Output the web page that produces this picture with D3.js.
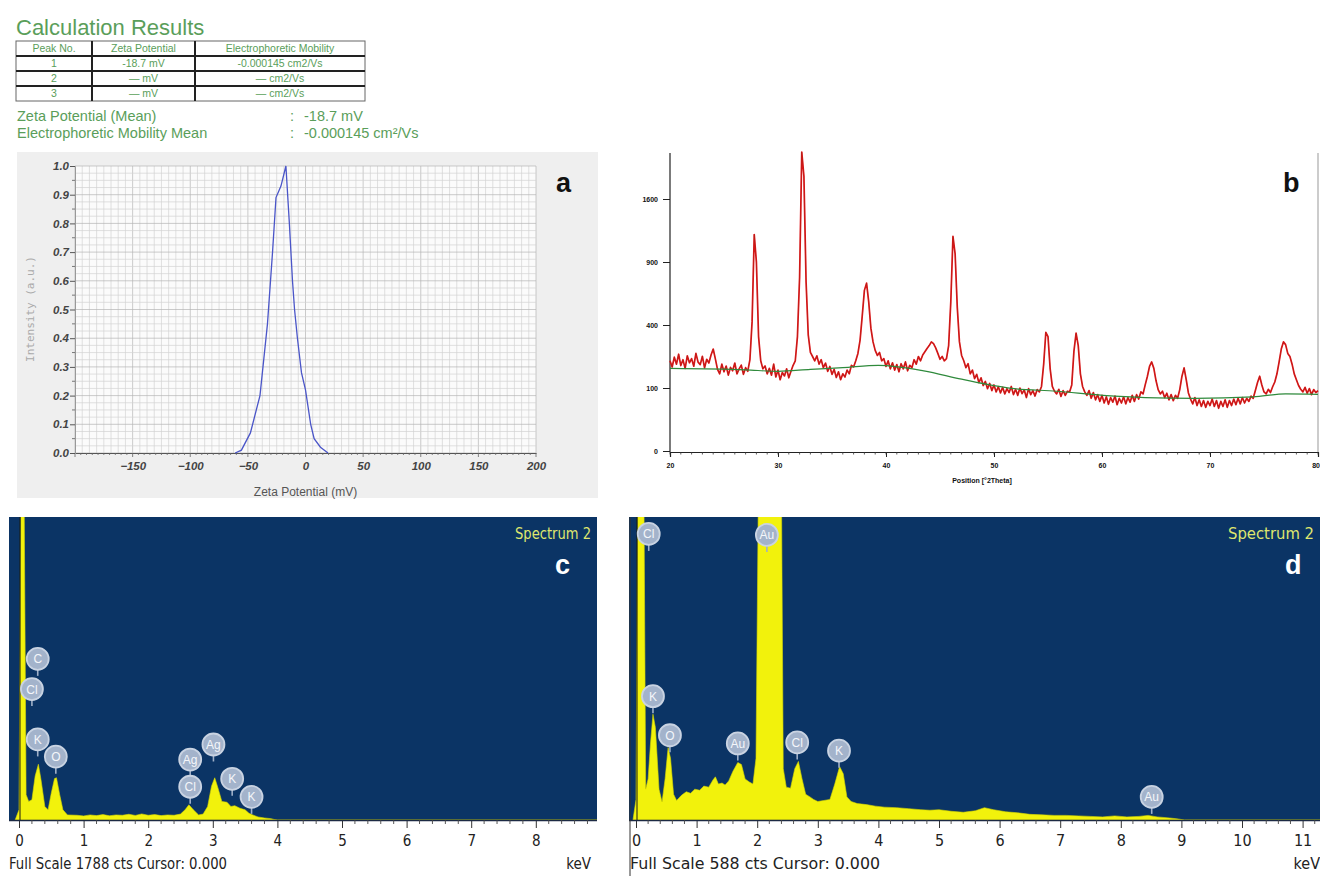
<!DOCTYPE html>
<html>
<head>
<meta charset="utf-8">
<script src="https://cdn.jsdelivr.net/npm/d3@7"></script>
<style>
  body { margin: 0; background: #fff; }
  svg { display: block; }
</style>
</head>
<body>
<svg id="fig" width="1320" height="876"></svg>
<script>
// ---- calculation results table ----
const peakNo = ['1', '2', '3']
const zetaCol = ['-18.7 mV', '— mV', '— mV']
const mobilityCol = ['-0.000145 cm2/Vs', '— cm2/Vs', '— cm2/Vs']
const tableHeader = ['Peak No.', 'Zeta Potential', 'Electrophoretic Mobility']

// ---- (a) zeta potential distribution ----
const zetaMv = [-61, -55.6, -47.8, -39.5, -33, -28.6, -25.6, -21.3, -17, -14, -11.3, -9.5, -7, -3.5, 0, 4.5, 7.5, 13, 19.5]
const zetaInt = [0, 0.01, 0.07, 0.2, 0.45, 0.7, 0.89, 0.93, 1.0, 0.8, 0.6, 0.5, 0.4, 0.28, 0.22, 0.1, 0.05, 0.02, 0]
const zetaXTicks = [-150, -100, -50, 0, 50, 100, 150, 200]
const zetaYTicks = [0, 0.1, 0.2, 0.3, 0.4, 0.5, 0.6, 0.7, 0.8, 0.9, 1.0]

// ---- (b) XRD pattern, 2theta from 20 to 80 in 0.2 steps ----
const xrdStart = 20, xrdStep = 0.2
const xrdCounts = [
  205,178,222,190,236,184,210,172,228,196,215,181,240,199,188,226,174,212,195,
  232,262,214,
  168,150,190,158,182,145,176,162,195,150,170,186,148,175,160,
  210,420,1180,900,330,205,170,
  182,150,172,145,190,138,165,128,155,142,170,135,160,185,
  205,330,760,2250,1900,720,340,245,225,
  205,228,190,210,175,195,160,180,148,168,136,158,128,150,138,165,150,185,
  178,205,240,310,460,650,710,560,380,300,255,230,245,205,
  215,180,205,170,196,165,188,158,192,170,200,162,185,175,210,190,225,205,
  232,248,265,280,300,290,268,240,212,225,205,
  215,280,560,1160,980,520,300,230,
  205,175,192,150,165,132,148,118,135,108,122,98,115,92,110,88,104,85,102,82,98,86,105,80,96,78,100,83,94,72,98,80,92,76,95,88,
  105,190,355,330,170,105,90,
  82,96,75,92,78,90,88,
  110,250,350,280,150,105,88,
  78,92,70,86,66,80,62,78,58,74,55,72,60,76,54,70,58,74,56,72,60,78,62,80,68,88,82,110,
  140,180,200,172,125,95,82,90,
  72,84,66,80,64,78,70,95,
  140,174,128,85,
  68,56,72,52,66,50,64,48,62,52,68,50,64,46,62,50,66,48,64,52,68,54,70,56,72,58,70,62,76,70,92,
  118,141,110,88,
  82,96,86,104,120,150,
  200,262,300,285,240,225,190,150,
  128,108,96,88,102,84,98,80,95,86,92
]
const bgTheta = [20, 27, 30, 33, 36, 39.3, 43.5, 47, 51.6, 55.8, 60.1, 64, 68.6, 74, 77, 80]
const bgCounts = [172, 166, 160, 168, 175, 185, 162, 130, 99, 90, 78, 72, 70, 74, 82, 81]
const xrdXTicks = [20, 30, 40, 50, 60, 70, 80]
const xrdYTicks = [0, 100, 400, 900, 1600]

// ---- (c) EDS spectrum, full scale 1788 cts ----
const cKeV = [-0.06, 0.0, 0.03, 0.08, 0.11, 0.15, 0.2, 0.25, 0.30, 0.34, 0.40, 0.45, 0.50, 0.55, 0.58, 0.63, 0.68, 0.75, 0.9,
  1.0, 1.1, 1.2, 1.3, 1.4, 1.5, 1.6, 1.7, 1.8, 1.9, 2.0, 2.1, 2.2, 2.3, 2.4, 2.5, 2.57, 2.63, 2.7, 2.78, 2.85, 2.92, 2.98,
  3.03, 3.08, 3.14, 3.22, 3.28, 3.34, 3.42, 3.5, 3.56, 3.62, 3.7, 3.8, 3.9, 3.95, 4.0, 8.95]
const cCounts = [0, 60, 1900, 1900, 150, 110, 120, 260, 330, 240, 80, 60, 160, 245, 250, 150, 60, 30, 28,
  24, 30, 26, 32, 25, 30, 28, 34, 27, 36, 28, 32, 26, 30, 28, 35, 60, 90, 60, 30, 35, 80, 200,
  250, 190, 110, 105, 80, 85, 70, 60, 40, 30, 18, 12, 8, 3, 0, 0]
const cLabelEl = ['C', 'Cl', 'K', 'O', 'Ag', 'Ag', 'Cl', 'K', 'K']
const cLabelKeV = [0.29, 0.20, 0.29, 0.57, 2.65, 3.01, 2.65, 3.30, 3.60]
const cLabelCts = [954, 775, 477, 375, 358, 447, 197, 244, 137]
const cXTicks = [0, 1, 2, 3, 4, 5, 6, 7, 8]

// ---- (d) EDS spectrum, full scale 588 cts ----
const dKeV = [-0.05, 0.0, 0.03, 0.13, 0.16, 0.2, 0.24, 0.28, 0.32, 0.38, 0.43, 0.48, 0.53, 0.57, 0.62, 0.67, 0.75, 0.83,
  0.9, 0.97, 1.05, 1.12, 1.2, 1.27, 1.31, 1.36, 1.42, 1.47, 1.53, 1.6, 1.68, 1.74, 1.8, 1.87, 1.93, 1.98, 2.02, 2.4,
  2.43, 2.48, 2.55, 2.62, 2.68, 2.74, 2.8, 2.87, 2.93, 3.0, 3.1, 3.2, 3.28, 3.36, 3.42, 3.48, 3.55, 3.65, 3.8, 3.95,
  4.1, 4.3, 4.5, 4.7, 4.85, 5.0, 5.2, 5.4, 5.6, 5.75, 5.9, 6.1, 6.3, 6.5, 6.7, 6.9, 7.1, 7.3, 7.5, 7.7, 7.9, 8.1,
  8.3, 8.45, 8.6, 8.8, 8.95, 9.05, 11.3]
const dCounts = [0, 40, 650, 650, 60, 80, 150, 206, 180, 60, 35, 80, 141, 120, 50, 38, 48, 55,
  52, 60, 58, 66, 64, 78, 84, 70, 72, 68, 76, 95, 112, 108, 80, 74, 70, 120, 650, 650,
  100, 64, 62, 100, 114, 80, 50, 45, 40, 36, 38, 40, 70, 104, 90, 45, 36, 32, 30, 27,
  25, 24, 22, 20, 19, 20, 17, 15, 18, 24, 20, 16, 14, 11, 10, 9, 9, 8, 7, 6, 8, 6,
  7, 9, 6, 4, 2, 0, 0]
const dLabelEl = ['Cl', 'Au', 'K', 'O', 'Au', 'Cl', 'K', 'Au']
const dLabelKeV = [0.21, 2.16, 0.28, 0.56, 1.68, 2.66, 3.35, 8.51]
const dLabelCts = [557, 555, 241, 165, 149, 151, 135, 45]
const dXTicks = [0, 1, 2, 3, 4, 5, 6, 7, 8, 9, 10, 11]

const svg = d3.select('#fig')
const GREEN = '#5a9e5a'

function drawTable() {
  const g = svg.append('g')
  g.append('text')
    .attr('x', 16).attr('y', 35)
    .attr('font-family', 'Liberation Sans, Arial, sans-serif')
    .attr('font-size', 22).attr('fill', GREEN)
    .text('Calculation Results')

  const colX = [16, 92, 195, 365]
  const rowY = d3.range(5).map(i => 41 + i * 15)
  const rows = [tableHeader].concat(peakNo.map((p, i) => [p, zetaCol[i], mobilityCol[i]]))

  g.append('rect')
    .attr('x', colX[0]).attr('y', rowY[0])
    .attr('width', colX[3] - colX[0]).attr('height', rowY[4] - rowY[0])
    .attr('fill', 'none').attr('stroke', '#666').attr('stroke-width', 1)

  // row rules are heavy in the original
  rowY.slice(1, 4).forEach(y => {
    g.append('line')
      .attr('x1', colX[0]).attr('x2', colX[3]).attr('y1', y).attr('y2', y)
      .attr('stroke', '#222').attr('stroke-width', 2)
  })
  colX.slice(1, 3).forEach(x => {
    g.append('line')
      .attr('x1', x).attr('x2', x).attr('y1', rowY[0]).attr('y2', rowY[4])
      .attr('stroke', '#222').attr('stroke-width', 2)
  })

  rows.forEach((r, ri) => {
    r.forEach((txt, ci) => {
      g.append('text')
        .attr('x', (colX[ci] + colX[ci + 1]) / 2)
        .attr('y', rowY[ri] + 11)
        .attr('text-anchor', 'middle')
        .attr('font-family', 'Liberation Sans, Arial, sans-serif')
        .attr('font-size', 10.5).attr('fill', GREEN)
        .text(txt)
    })
  })

  const lines = [
    ['Zeta Potential (Mean)', '-18.7 mV', 121],
    ['Electrophoretic Mobility Mean', '-0.000145 cm\u00B2/Vs', 138]
  ]
  lines.forEach(([name, val, y]) => {
    const t = g.append('g')
      .attr('font-family', 'Liberation Sans, Arial, sans-serif')
      .attr('font-size', 14.5).attr('fill', GREEN)
    t.append('text').attr('x', 17).attr('y', y).text(name)
    t.append('text').attr('x', 290).attr('y', y).text(':')
    t.append('text').attr('x', 304).attr('y', y).text(val)
  })
}

function drawZeta() {
  const g = svg.append('g')
  g.append('rect')
    .attr('x', 17).attr('y', 152).attr('width', 581).attr('height', 346)
    .attr('fill', '#efefef')

  const x = d3.scaleLinear().domain([-200, 200]).range([75, 536])
  const y = d3.scaleLinear().domain([0, 1]).range([453, 166])

  g.append('rect')
    .attr('x', x(-200)).attr('y', y(1))
    .attr('width', x(200) - x(-200)).attr('height', y(0) - y(1))
    .attr('fill', '#fbfbfb')

  // fine grid
  const gridX = d3.range(-200, 200.01, 6.25)
  const gridY = d3.range(0, 1.0001, 0.025)
  g.append('g').selectAll('line').data(gridX).join('line')
    .attr('x1', d => x(d)).attr('x2', d => x(d))
    .attr('y1', y(1)).attr('y2', y(0))
    .attr('stroke', d => d % 50 === 0 ? '#b4b4b4' : '#d2d2d2')
    .attr('stroke-width', 0.7)
  g.append('g').selectAll('line').data(gridY).join('line')
    .attr('x1', x(-200)).attr('x2', x(200))
    .attr('y1', d => y(d)).attr('y2', d => y(d))
    .attr('stroke', (d, i) => i % 4 === 0 ? '#b4b4b4' : '#d2d2d2')
    .attr('stroke-width', 0.7)

  const xAxis = d3.axisBottom(x).tickValues(zetaXTicks).tickSize(0).tickPadding(9)
  const gx = g.append('g').attr('transform', `translate(0,${y(0)})`).call(xAxis)
  gx.select('.domain').attr('stroke', '#555')
  gx.selectAll('text')
    .attr('font-family', 'Liberation Sans, Arial, sans-serif')
    .attr('font-size', 11.5).attr('font-weight', 'bold').attr('font-style', 'italic')
    .attr('fill', '#444')
  // minor ticks along the bottom
  g.append('g').selectAll('line').data(d3.range(-200, 200.01, 5)).join('line')
    .attr('x1', d => x(d)).attr('x2', d => x(d))
    .attr('y1', y(0)).attr('y2', d => y(0) + (d % 50 === 0 ? 4 : 2))
    .attr('stroke', '#666').attr('stroke-width', 0.8)

  const yAxis = d3.axisLeft(y).tickValues(zetaYTicks).tickFormat(d3.format('.1f')).tickSize(5).tickPadding(1)
  const gy = g.append('g').attr('transform', `translate(${x(-200)},0)`).call(yAxis)
  gy.select('.domain').attr('stroke', '#999')
  gy.selectAll('.tick line').attr('stroke', '#555')
  gy.selectAll('text')
    .attr('font-family', 'Liberation Sans, Arial, sans-serif')
    .attr('font-size', 11.5).attr('font-weight', 'bold').attr('font-style', 'italic')
    .attr('fill', '#444')
  g.append('g').selectAll('line').data(d3.range(0.05, 1, 0.1)).join('line')
    .attr('x1', x(-200) - 3).attr('x2', x(-200))
    .attr('y1', d => y(d)).attr('y2', d => y(d))
    .attr('stroke', '#777')

  const line = d3.line().x((d, i) => x(zetaMv[i])).y(d => y(d))
  g.append('path')
    .attr('d', line(zetaInt))
    .attr('fill', 'none').attr('stroke', '#4a55c8').attr('stroke-width', 1.3)

  g.append('text')
    .attr('x', x(0)).attr('y', 496)
    .attr('text-anchor', 'middle')
    .attr('font-family', 'Liberation Sans, Arial, sans-serif')
    .attr('font-size', 12).attr('fill', '#555')
    .text('Zeta Potential (mV)')
  g.append('text')
    .attr('transform', 'translate(34,309) rotate(-90)')
    .attr('text-anchor', 'middle')
    .attr('font-family', 'DejaVu Sans Mono, monospace')
    .attr('font-size', 11).attr('fill', '#aaa')
    .text('Intensity (a.u.)')

  g.append('text')
    .attr('x', 556).attr('y', 192)
    .attr('font-family', 'Liberation Sans, Arial, sans-serif')
    .attr('font-size', 27).attr('font-weight', 'bold').attr('fill', '#111')
    .text('a')
}

function drawXrd() {
  const g = svg.append('g')
  const x = d3.scaleLinear().domain([20, 80]).range([670, 1318])
  const y = d3.scaleSqrt().domain([0, 1600]).range([451, 199])
  const theta = xrdCounts.map((c, i) => xrdStart + i * xrdStep)

  const gx = g.append('g').attr('transform', 'translate(0,452)')
    .call(d3.axisBottom(x).tickValues(xrdXTicks).tickSize(5).tickPadding(6).tickFormat(d3.format('d')))
  gx.select('.domain').attr('stroke', '#222').attr('stroke-width', 1.2)
  gx.selectAll('.tick line').attr('stroke', '#222')
  gx.selectAll('text')
    .attr('font-family', 'Liberation Sans, Arial, sans-serif')
    .attr('font-size', 7).attr('font-weight', 'bold').attr('fill', '#111')
    .attr('text-anchor', d => d === 80 ? 'end' : 'middle')
    .attr('dx', d => d === 80 ? 1.5 : 0)
  g.append('g').selectAll('line').data(d3.range(20, 80.01, 1)).join('line')
    .attr('x1', d => x(d)).attr('x2', d => x(d))
    .attr('y1', 452).attr('y2', 454.5)
    .attr('stroke', '#333').attr('stroke-width', 0.8)

  const gy = g.append('g').attr('transform', 'translate(670,0)')
    .call(d3.axisLeft(y).tickValues(xrdYTicks).tickSize(7).tickPadding(5).tickFormat(d3.format('d')))
  gy.select('.domain').remove()
  g.append('line')
    .attr('x1', 670).attr('x2', 670).attr('y1', 153).attr('y2', 452)
    .attr('stroke', '#222').attr('stroke-width', 1.2)
  gy.selectAll('.tick line').attr('stroke', '#222')
  gy.selectAll('text')
    .attr('font-family', 'Liberation Sans, Arial, sans-serif')
    .attr('font-size', 7).attr('font-weight', 'bold').attr('fill', '#111')

  g.append('line')
    .attr('x1', 1318).attr('x2', 1318).attr('y1', 153).attr('y2', 452)
    .attr('stroke', '#999').attr('stroke-width', 1)

  const xrdLine = d3.line().x((d, i) => x(theta[i])).y(d => y(d))
  g.append('path')
    .attr('d', xrdLine(xrdCounts))
    .attr('fill', 'none').attr('stroke', '#e3151b').attr('stroke-width', 1.7)
    .attr('stroke-linejoin', 'round')
  g.append('path')
    .attr('d', xrdLine(xrdCounts))
    .attr('fill', 'none').attr('stroke', '#7a2a10').attr('stroke-width', 0.5)
    .attr('stroke-opacity', 0.55)
  g.append('path')
    .attr('d', d3.line().x((d, i) => x(bgTheta[i])).y(d => y(d)).curve(d3.curveMonotoneX)(bgCounts))
    .attr('fill', 'none').attr('stroke', '#2f8a3c').attr('stroke-width', 1.2)

  g.append('text')
    .attr('x', 982).attr('y', 483).attr('text-anchor', 'middle')
    .attr('font-family', 'Liberation Sans, Arial, sans-serif')
    .attr('font-size', 7).attr('font-weight', 'bold').attr('fill', '#111')
    .text('Position [°2Theta]')

  g.append('text')
    .attr('x', 1283).attr('y', 192)
    .attr('font-family', 'Liberation Sans, Arial, sans-serif')
    .attr('font-size', 27).attr('font-weight', 'bold').attr('fill', '#111')
    .text('b')
}

function drawEds(o) {
  const g = svg.append('g')
  const left = o.left, right = o.right, top = 517, base = 820
  const x = d3.scaleLinear().domain([0, 1]).range([o.zeroX, o.zeroX + o.pxPerKeV])
  const y = d3.scaleLinear().domain([0, o.fullScale]).range([base, 518])
  const narrow = 'Liberation Sans Narrow, Arial Narrow, DejaVu Sans Condensed, sans-serif'

  g.append('rect')
    .attr('x', left).attr('y', top).attr('width', right - left).attr('height', base - top)
    .attr('fill', '#0b3465')

  const clipId = 'clip-' + o.name
  svg.append('clipPath').attr('id', clipId)
    .append('rect').attr('x', left).attr('y', top).attr('width', right - left).attr('height', base - top)

  const area = d3.area()
    .x((d, i) => x(o.keV[i]))
    .y0(base)
    .y1(d => y(d))
  g.append('path')
    .attr('d', area(o.counts))
    .attr('clip-path', `url(#${clipId})`)
    .attr('fill', '#f2f20c').attr('stroke', '#d8d800').attr('stroke-width', 0.6)

  // cursor at 0.000
  g.append('line')
    .attr('x1', x(0) + 1).attr('x2', x(0) + 1).attr('y1', top).attr('y2', base)
    .attr('stroke', '#1a1a10').attr('stroke-width', 1)

  // element markers
  o.labelEl.forEach((el, i) => {
    const cx = x(o.labelKeV[i]), cy = y(o.labelCts[i])
    const m = g.append('g')
    m.append('line')
      .attr('x1', cx).attr('x2', cx).attr('y1', cy + 10).attr('y2', cy + 17)
      .attr('stroke', '#9fb0c8').attr('stroke-width', 1.6)
    m.append('circle')
      .attr('cx', cx).attr('cy', cy).attr('r', 11)
      .attr('fill', '#a3b3cb').attr('stroke', '#c9d3e2').attr('stroke-width', 1.8)
    m.append('text')
      .attr('x', cx).attr('y', cy + 4.5).attr('text-anchor', 'middle')
      .attr('font-family', 'Liberation Sans, Arial, sans-serif')
      .attr('font-size', 12).attr('fill', '#f4f6fa')
      .text(el)
  })

  // keV axis under the panel
  const gx = g.append('g').attr('transform', `translate(0,${base})`)
    .call(d3.axisBottom(x).tickValues(o.ticks).tickSize(8).tickPadding(7).tickFormat(d3.format('d')))
  gx.select('.domain').remove()
  g.append('line')
    .attr('x1', left).attr('x2', right).attr('y1', base + 0.5).attr('y2', base + 0.5)
    .attr('stroke', '#1c2a44').attr('stroke-width', 1.5)
  gx.selectAll('.tick line').attr('stroke', '#333')
  gx.selectAll('text')
    .attr('font-family', narrow)
    .attr('font-size', o.tickFont).attr('fill', '#222')
  const minor = d3.range(0, o.ticks[o.ticks.length - 1] + 1, 0.2)
    .filter(d => Math.abs(d - Math.round(d)) > 0.01 && x(d) < right)
  g.append('g').selectAll('line').data(minor).join('line')
    .attr('x1', d => x(d)).attr('x2', d => x(d))
    .attr('y1', base).attr('y2', base + 4)
    .attr('stroke', '#444').attr('stroke-width', 0.9)

  g.append('text')
    .attr('x', o.footX).attr('y', 869)
    .attr('font-family', narrow).attr('font-size', o.tickFont)
    .attr('textLength', o.footLen).attr('lengthAdjust', 'spacingAndGlyphs')
    .attr('fill', '#222')
    .text(`Full Scale ${o.fullScale} cts Cursor: 0.000`)
  g.append('text')
    .attr('x', o.kevX).attr('y', 869).attr('text-anchor', 'end')
    .attr('font-family', narrow).attr('font-size', o.tickFont)
    .attr('fill', '#222')
    .text('keV')

  g.append('text')
    .attr('x', right - 6).attr('y', 539).attr('text-anchor', 'end')
    .attr('font-family', narrow).attr('font-size', 15)
    .attr('textLength', o.specLen).attr('lengthAdjust', 'spacingAndGlyphs')
    .attr('fill', '#dfe66e')
    .text('Spectrum 2')
  g.append('text')
    .attr('x', o.letterX).attr('y', 574)
    .attr('font-family', 'Liberation Sans, Arial, sans-serif')
    .attr('font-size', 27).attr('font-weight', 'bold').attr('fill', '#fff')
    .text(o.name)
}

drawTable()
drawZeta()
drawXrd()
drawEds({
  name: 'c', left: 9, right: 597, zeroX: 19, pxPerKeV: 64.6, fullScale: 1788,
  keV: cKeV, counts: cCounts, labelEl: cLabelEl, labelKeV: cLabelKeV, labelCts: cLabelCts,
  ticks: cXTicks, tickFont: 15, footX: 9, footLen: 218, kevX: 591, specLen: 76, letterX: 555
})
drawEds({
  name: 'd', left: 629, right: 1320, zeroX: 636, pxPerKeV: 60.6, fullScale: 588,
  keV: dKeV, counts: dCounts, labelEl: dLabelEl, labelKeV: dLabelKeV, labelCts: dLabelCts,
  ticks: dXTicks, tickFont: 16, footX: 630, footLen: 250, kevX: 1320, specLen: 86, letterX: 1285
})
// left edge rule of panel d
svg.append('line')
  .attr('x1', 630).attr('x2', 630).attr('y1', 517).attr('y2', 876)
  .attr('stroke', '#333').attr('stroke-width', 1)
</script>
</body>
</html>
